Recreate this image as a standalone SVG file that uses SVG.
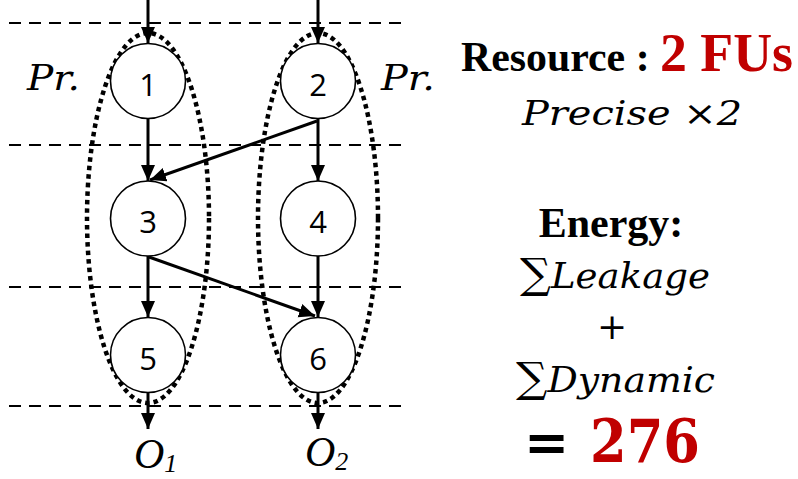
<svg xmlns="http://www.w3.org/2000/svg" width="798" height="479" viewBox="0 0 798 479">
<style>
.dash{stroke:#000;stroke-width:2;stroke-dasharray:12 8;fill:none}
.dot{stroke:#000;stroke-width:4.5;stroke-dasharray:4.5 4;fill:none}
.node circle{fill:#fff;stroke:#000;stroke-width:1.6}
.node text{font-family:"Open Sans","Noto Sans",sans-serif;font-size:31px;text-anchor:middle}
.edge{stroke:#000;stroke-width:3;fill:none;marker-end:url(#ah)}
.math{font-family:"DejaVu Serif",serif;font-style:italic}
.tnr{font-family:"Liberation Serif",serif;font-weight:bold}
.red{fill:#C00000}
</style>
<defs>
<marker id="ah" markerUnits="userSpaceOnUse" markerWidth="18" markerHeight="16" refX="16" refY="7" orient="auto">
<path d="M0,0 L16,7 L0,14 z" fill="#000"/>
</marker>
</defs>
<rect width="798" height="479" fill="#fff"/>
<g id="gridlines">
<line class="dash" x1="9" y1="23" x2="408" y2="23"/>
<line class="dash" x1="9" y1="145" x2="408" y2="145"/>
<line class="dash" x1="9" y1="287" x2="408" y2="287"/>
<line class="dash" x1="9" y1="406" x2="408" y2="406"/>
</g>
<g id="groups">
<ellipse class="dot" cx="148" cy="218" rx="61" ry="185"/>
<ellipse class="dot" cx="318" cy="218" rx="60" ry="185"/>
</g>
<g id="connectors">
<line class="edge" x1="148" y1="0" x2="148" y2="43"/>
<line class="edge" x1="318" y1="0" x2="318" y2="43"/>
<line class="edge" x1="148" y1="119" x2="148" y2="181"/>
<line class="edge" x1="317" y1="121" x2="150" y2="180"/>
<line class="edge" x1="318" y1="119" x2="318" y2="181"/>
<line class="edge" x1="149" y1="257" x2="315" y2="316"/>
<line class="edge" x1="148" y1="256" x2="148" y2="317"/>
<line class="edge" x1="318" y1="256" x2="318" y2="317"/>
<line class="edge" x1="148" y1="393" x2="148" y2="429"/>
<line class="edge" x1="318" y1="393" x2="318" y2="429"/>
</g>
<g id="n1" class="node"><circle cx="148" cy="81" r="37.5"/><text x="148" y="96">1</text></g>
<g id="n2" class="node"><circle cx="318" cy="81" r="37.5"/><text x="318" y="96">2</text></g>
<g id="n3" class="node"><circle cx="148" cy="218.5" r="37.5"/><text x="148" y="233">3</text></g>
<g id="n4" class="node"><circle cx="318" cy="218.5" r="37.5"/><text x="318" y="233">4</text></g>
<g id="n5" class="node"><circle cx="148" cy="355" r="37.5"/><text x="148" y="370">5</text></g>
<g id="n6" class="node"><circle cx="318" cy="355" r="37.5"/><text x="318" y="370">6</text></g>
<g id="labels">
<text class="math" x="27" y="90" font-size="36" textLength="53" lengthAdjust="spacingAndGlyphs">Pr.</text>
<text class="math" x="381" y="90" font-size="36" textLength="54" lengthAdjust="spacingAndGlyphs">Pr.</text>
<text x="134" y="468" font-family="Liberation Serif,serif" font-style="italic" font-size="42">O<tspan font-size="26" dy="4">1</tspan></text>
<text x="305" y="466" font-family="Liberation Serif,serif" font-style="italic" font-size="42">O<tspan font-size="26" dy="4">2</tspan></text>
</g>
<g id="info">
<text x="461" y="71" class="tnr" font-size="42" textLength="332" lengthAdjust="spacingAndGlyphs">Resource : <tspan class="red" font-size="54">2 FUs</tspan></text>
<text x="522" y="125" class="math" font-size="34" textLength="220" lengthAdjust="spacingAndGlyphs">Precise  ×2</text>
<text x="611" y="237" class="tnr" font-size="42" text-anchor="middle">Energy:</text>
<text x="520" y="288" class="math" font-size="36" textLength="190" lengthAdjust="spacingAndGlyphs"><tspan font-style="normal" font-size="42">∑</tspan>Leakage</text>
<text x="612" y="339" class="math" font-style="normal" font-size="36" text-anchor="middle">+</text>
<text x="516" y="392" class="math" font-size="36" textLength="199" lengthAdjust="spacingAndGlyphs"><tspan font-style="normal" font-size="42">∑</tspan>Dynamic</text>
<text x="524" y="461" font-family="DejaVu Serif,serif" font-weight="bold" font-size="54">=</text>
<text x="590" y="462" font-family="DejaVu Serif,serif" font-weight="bold" font-size="60" class="red" textLength="110" lengthAdjust="spacingAndGlyphs">276</text>
</g>
</svg>
